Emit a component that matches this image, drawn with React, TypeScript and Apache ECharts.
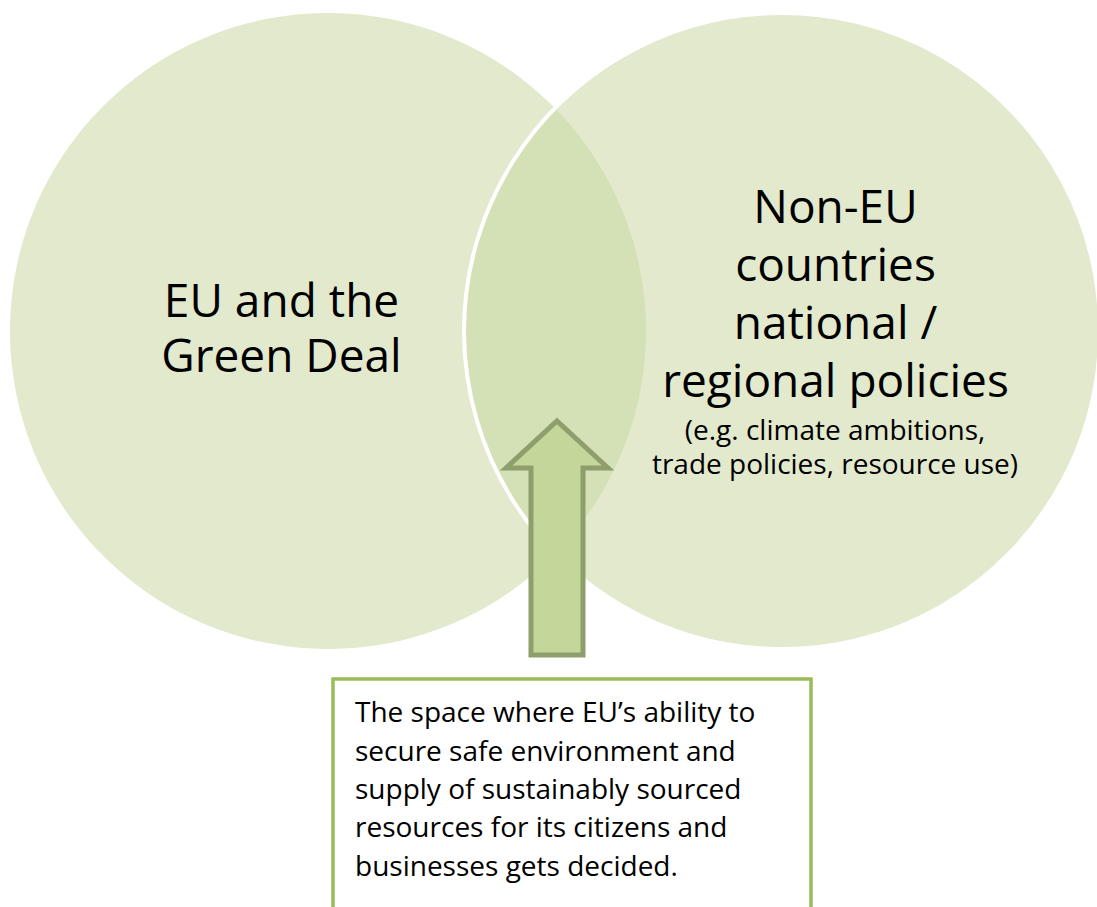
import React, { useEffect, useRef } from "react";
import * as echarts from "echarts";

// ---- content ----
const leftLabel = ["EU and the", "Green Deal"];
const rightLabel = ["Non-EU", "countries", "national /", "regional policies"];
const rightNote = ["(e.g. climate ambitions,", "trade policies, resource use)"];
const boxLines = [
  "The space where EU\u2019s ability to",
  "secure safe environment and",
  "supply of sustainably sourced",
  "resources for its citizens and",
  "businesses gets decided.",
];

// ---- geometry ----
const R = 318;
const CY = 331;
const LCX = 328;
const RCX = 782;

const FONT = "'Open Sans', Lato, sans-serif";
const LIGHT = "#e2e9cd";
const OVERLAP = "#d4e0b5";

export default function App() {
  const ref = useRef<HTMLDivElement>(null);
  useEffect(() => {
    document.body.style.margin = "0";
    if (!ref.current) return;
    const chart = echarts.init(ref.current, undefined, { renderer: "svg" });

    const ix = (LCX + RCX) / 2;
    const dy = Math.sqrt(R * R - ((RCX - LCX) / 2) ** 2);
    const y1 = CY - dy;
    const y2 = CY + dy;
    const d = `M ${ix} ${y1} A ${R} ${R} 0 0 1 ${ix} ${y2} A ${R} ${R} 0 0 1 ${ix} ${y1} Z`;
    echarts.graphic.registerShape("lens", echarts.graphic.extendPath(d, {}) as any);

    // multi-line text block; b0 = baseline of the first line
    const textBlock = (
      lines: string[],
      x: number,
      b0: number,
      fs: number,
      lh: number,
      align: string
    ) => ({
      type: "text",
      x,
      y: b0 - 0.388 * fs + ((lines.length - 1) / 2) * lh,
      style: {
        text: lines.join("\n"),
        fontFamily: FONT,
        fontSize: fs,
        lineHeight: lh,
        fill: "#000",
        align,
        verticalAlign: "middle",
      },
    });

    const graphic: any[] = [
      { type: "circle", shape: { cx: LCX, cy: CY, r: R }, style: { fill: LIGHT } },
      { type: "circle", shape: { cx: RCX, cy: CY, r: R }, style: { fill: LIGHT } },
      { type: "lens", x: 0, y: 0, style: { fill: OVERLAP } },
      {
        type: "circle",
        shape: { cx: RCX, cy: CY, r: R },
        style: { fill: "none", stroke: "#ffffff", lineWidth: 4 },
      },
      textBlock(leftLabel, 281.5, 316.7, 46, 55, "center"),
      textBlock(rightLabel, 835.5, 223.3, 46, 57.7, "center"),
      textBlock(rightNote, 835, 440, 28, 34, "center"),
      {
        type: "polygon",
        shape: {
          points: [
            [557, 421],
            [608, 468],
            [583, 468],
            [583, 655],
            [531, 655],
            [531, 468],
            [506, 468],
          ],
        },
        style: { fill: "#c4d79b", stroke: "#8e9e6d", lineWidth: 5, lineJoin: "miter" },
      },
      {
        type: "rect",
        shape: { x: 333, y: 679, width: 478, height: 300 },
        style: { fill: "#ffffff", stroke: "#9bbb59", lineWidth: 3.5 },
      },
      textBlock(boxLines, 355, 722.3, 28, 38.3, "left"),
    ];

    chart.setOption({ animation: false, graphic });
    return () => chart.dispose();
  }, []);
  return <div ref={ref} style={{ width: 1097, height: 907 }} />;
}
